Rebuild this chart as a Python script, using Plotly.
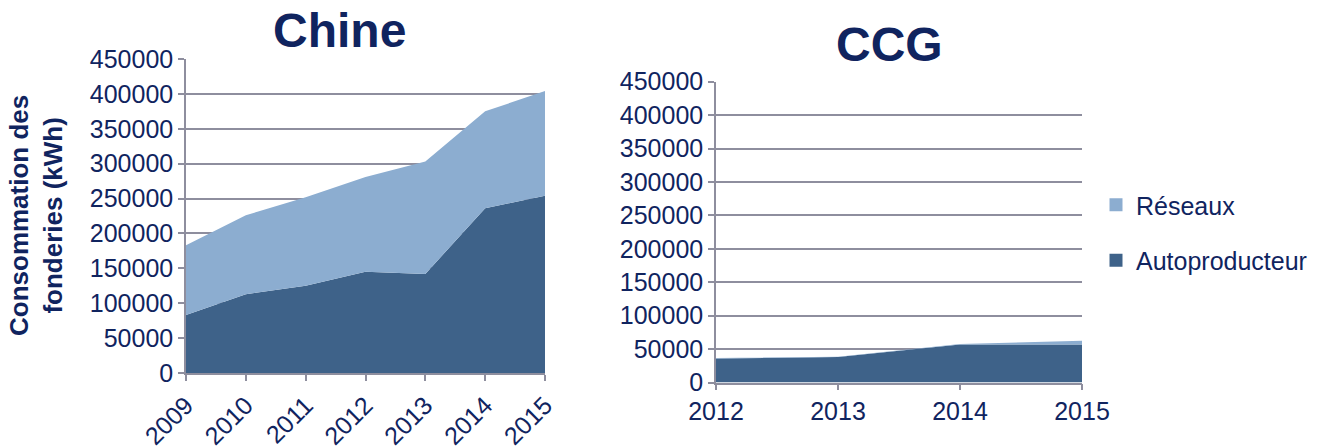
import plotly.graph_objects as go

# Consommation électrique des fonderies (kWh)
annees_chine = ["2009", "2010", "2011", "2012", "2013", "2014", "2015"]
chine_autoproducteur = [83000, 113000, 125000, 145000, 142000, 236000, 254000]
chine_reseaux = [100000, 113000, 127000, 136000, 161000, 139000, 150000]

annees_ccg = ["2012", "2013", "2014", "2015"]
ccg_autoproducteur = [36000, 38000, 57000, 57000]
ccg_reseaux = [600, 600, 700, 5300]

y_ticks = [0, 50000, 100000, 150000, 200000, 250000, 300000, 350000, 400000, 450000]
y_tick_labels = [str(v) for v in y_ticks]

DARK = "#3e6289"
LIGHT = "#8cadd0"
NAVY = "#10245f"
GRID = "#8e8e9e"
FONT = "Liberation Sans, Arial, sans-serif"

fig = go.Figure()

def add_stack(xs, auto, res, xa, ya, group):
    fig.add_trace(go.Scatter(
        x=xs, y=auto, name="Autoproducteur", stackgroup=group, mode="none",
        fillcolor=DARK, showlegend=False, xaxis=xa, yaxis=ya,
    ))
    fig.add_trace(go.Scatter(
        x=xs, y=res, name="Réseaux", stackgroup=group, mode="none",
        fillcolor=LIGHT, showlegend=False, xaxis=xa, yaxis=ya,
    ))

add_stack(annees_chine, chine_autoproducteur, chine_reseaux, "x", "y", "chine")
add_stack(annees_ccg, ccg_autoproducteur, ccg_reseaux, "x2", "y2", "ccg")

# Square legend markers
for nom, couleur, grp in [("Réseaux", LIGHT, "r"), ("Autoproducteur", DARK, "a")]:
    fig.add_trace(go.Scatter(
        x=[None], y=[None], mode="markers", name=nom, legendgroup=grp,
        marker=dict(symbol="square", size=13, color=couleur),
        xaxis="x2", yaxis="y2",
    ))

axis_common = dict(
    showline=True, linecolor=GRID, linewidth=1.5,
    ticks="outside", ticklen=6, tickcolor=GRID, tickwidth=1.5,
    tickfont=dict(family=FONT, size=25, color=NAVY),
    zeroline=False, automargin=False,
)

fig.update_layout(
    width=1320, height=446,
    margin=dict(l=0, r=0, t=0, b=0, autoexpand=False),
    paper_bgcolor="white", plot_bgcolor="white",
    font=dict(family=FONT, color=NAVY),
    xaxis=dict(domain=[186 / 1320, 545 / 1320], type="category", range=[0, 6],
               showgrid=False, tickangle=-45, **axis_common),
    yaxis=dict(domain=[(446 - 373) / 446, (446 - 59) / 446], range=[0, 450000],
               tickvals=y_ticks, ticktext=y_tick_labels,
               showgrid=True, gridcolor=GRID, gridwidth=1.5, **axis_common),
    xaxis2=dict(domain=[716 / 1320, 1082 / 1320], type="category", range=[0, 3],
                showgrid=False, anchor="y2", **axis_common),
    yaxis2=dict(domain=[(446 - 382.5) / 446, (446 - 81.7) / 446], range=[0, 450000],
                tickvals=y_ticks, ticktext=y_tick_labels,
                showgrid=True, gridcolor=GRID, gridwidth=1.5, anchor="x2", **axis_common),
    showlegend=True,
    legend=dict(
        x=1096 / 1320, y=(446 - 182) / 446, xanchor="left", yanchor="top",
        traceorder="grouped", tracegroupgap=20,
        font=dict(family=FONT, size=25, color=NAVY),
        bgcolor="rgba(0,0,0,0)", itemwidth=30,
    ),
    annotations=[
        dict(text="<b>Chine</b>", x=339 / 1320, y=(446 - 31) / 446, xref="paper", yref="paper",
             xanchor="center", yanchor="middle", showarrow=False,
             font=dict(family=FONT, size=48, color=NAVY)),
        dict(text="<b>CCG</b>", x=890 / 1320, y=(446 - 45) / 446, xref="paper", yref="paper",
             xanchor="center", yanchor="middle", showarrow=False,
             font=dict(family=FONT, size=48, color=NAVY)),
        dict(text="<b>Consommation des<br>fonderies (kWh)</b>", x=36 / 1320, y=(446 - 216) / 446,
             xref="paper", yref="paper", xanchor="center", yanchor="middle",
             showarrow=False, textangle=-90,
             font=dict(family=FONT, size=26, color=NAVY)),
    ],
)

fig.write_html("out.html")
